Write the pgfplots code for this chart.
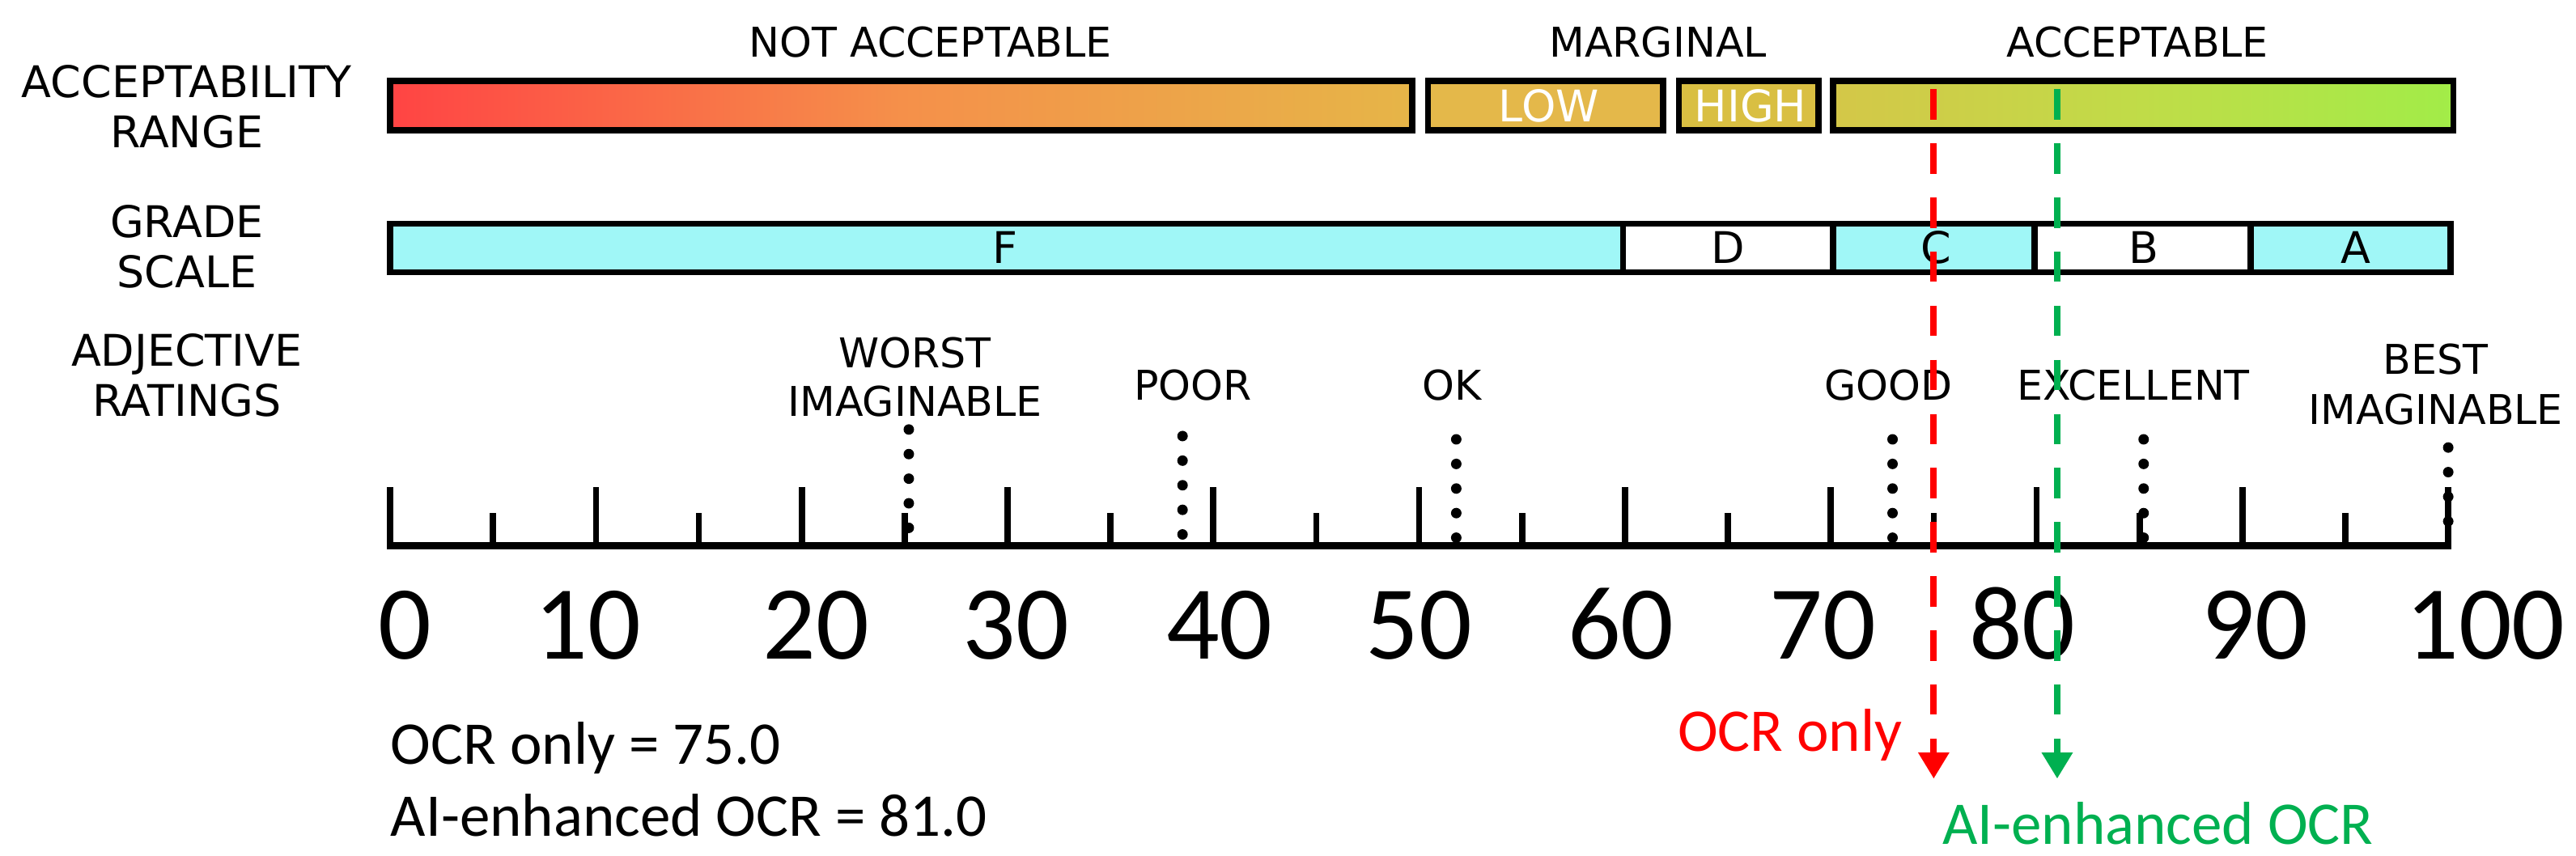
\documentclass[border=0pt]{standalone}
\usepackage{fontspec}
\setmainfont{DejaVu Sans}
\newfontfamily\calfont{Carlito}
\usepackage{pgfplots}
\pgfplotsset{compat=1.18}
\usetikzlibrary{arrows.meta}

\definecolor{ocrred}{HTML}{FF0000}
\definecolor{aigreen}{HTML}{00B050}
\definecolor{gradecyan}{HTML}{A0F7F7}
\definecolor{naleft}{HTML}{FF4444}
\definecolor{namid}{HTML}{F5904A}
\definecolor{naright}{HTML}{E6B548}
\definecolor{lowfill}{HTML}{E4B84A}
\definecolor{highfill}{HTML}{D9BF42}
\definecolor{accleft}{HTML}{D4C748}
\definecolor{accmid}{HTML}{C0DC48}
\definecolor{accright}{HTML}{A2EC48}

\newcommand{\hd}{\fontsize{13.3}{16}\selectfont}
\newcommand{\lb}{\fontsize{12.5}{15}\selectfont}

\begin{document}
\begin{tikzpicture}
\begin{axis}[
  scale only axis,
  width=627.5pt, height=261pt,
  xmin=0, xmax=100, ymin=0, ymax=522,
  axis lines=none,
  clip=false,
]
% page frame
\path (axis cs:-18.96,0) rectangle (axis cs:105.98,522);

% acceptability range
\addplot[draw=black, line width=1.9pt, line join=miter, left color=naleft, right color=naright, middle color=namid]
  coordinates {(-0.01,442.4) (49.65,442.4) (49.65,472.6) (-0.01,472.6)} -- cycle;
\addplot[draw=black, line width=1.9pt, line join=miter, fill=lowfill]
  coordinates {(50.43,442.4) (61.84,442.4) (61.84,472.6) (50.43,472.6)} -- cycle;
\addplot[draw=black, line width=1.9pt, line join=miter, fill=highfill]
  coordinates {(62.62,442.4) (69.41,442.4) (69.41,472.6) (62.62,472.6)} -- cycle;
\addplot[draw=black, line width=1.9pt, line join=miter, left color=accleft, right color=accright, middle color=accmid]
  coordinates {(70.11,442.4) (100.25,442.4) (100.25,472.6) (70.11,472.6)} -- cycle;

% grade scale
\addplot[draw=black, line width=1.9pt, line join=miter, fill=gradecyan]
  coordinates {(-0.01,355.9) (59.9,355.9) (59.9,385.6) (-0.01,385.6)} -- cycle;
\addplot[draw=black, line width=1.9pt, line join=miter, fill=white]
  coordinates {(59.9,355.9) (70.1,355.9) (70.1,385.6) (59.9,385.6)} -- cycle;
\addplot[draw=black, line width=1.9pt, line join=miter, fill=gradecyan]
  coordinates {(70.1,355.9) (79.9,355.9) (79.9,385.6) (70.1,385.6)} -- cycle;
\addplot[draw=black, line width=1.9pt, line join=miter, fill=white]
  coordinates {(79.9,355.9) (90.4,355.9) (90.4,385.6) (79.9,385.6)} -- cycle;
\addplot[draw=black, line width=1.9pt, line join=miter, fill=gradecyan]
  coordinates {(90.4,355.9) (100.1,355.9) (100.1,385.6) (90.4,385.6)} -- cycle;

% scale line and ticks
\pgfplotsinvokeforeach{0,10,...,100}{
  \addplot[black, line width=1.9pt] coordinates {(#1,189) (#1,225)};
}
\pgfplotsinvokeforeach{5,15,...,95}{
  \addplot[black, line width=1.9pt] coordinates {(#1,189) (#1,209)};
}
\addplot[black, line width=2.2pt] coordinates {(-0.15,189) (100.15,189)};

% adjective rating markers
\addplot[black, line width=3.2pt, line cap=round, dash pattern=on 0pt off 7.5pt] coordinates {(25.2,260) (25.2,192)};
\addplot[black, line width=3.2pt, line cap=round, dash pattern=on 0pt off 7.5pt] coordinates {(38.5,256) (38.5,192)};
\addplot[black, line width=3.2pt, line cap=round, dash pattern=on 0pt off 7.5pt] coordinates {(51.8,254) (51.8,192)};
\addplot[black, line width=3.2pt, line cap=round, dash pattern=on 0pt off 7.5pt] coordinates {(73.0,254) (73.0,192)};
\addplot[black, line width=3.2pt, line cap=round, dash pattern=on 0pt off 7.5pt] coordinates {(85.2,254) (85.2,192)};
\addplot[black, line width=3.2pt, line cap=round, dash pattern=on 0pt off 7.5pt] coordinates {(100,249) (100,192)};

% headings
\node[anchor=base, font=\hd] at (axis cs:-9.88,462.3) {ACCEPTABILITY};
\node[anchor=base, font=\hd] at (axis cs:-9.88,431.7) {RANGE};
\node[anchor=base, font=\hd] at (axis cs:-9.88,377.3) {GRADE};
\node[anchor=base, font=\hd] at (axis cs:-9.88,346.3) {SCALE};
\node[anchor=base, font=\hd] at (axis cs:-9.88,298.7) {ADJECTIVE};
\node[anchor=base, font=\hd] at (axis cs:-9.88,268.3) {RATINGS};

% range labels
\node[anchor=base, font=\lb] at (axis cs:26.25,487.4) {NOT ACCEPTABLE};
\node[anchor=base, font=\lb] at (axis cs:61.6,487.4) {MARGINAL};
\node[anchor=base, font=\lb] at (axis cs:84.9,487.4) {ACCEPTABLE};
\node[anchor=base, font=\hd, text=white] at (axis cs:56.3,447.9) {LOW};
\node[anchor=base, font=\hd, text=white] at (axis cs:66.1,447.9) {HIGH};

% grade letters
\node[anchor=base, font=\hd] at (axis cs:29.9,361.5) {F};
\node[anchor=base, font=\hd] at (axis cs:65.0,361.5) {D};
\node[anchor=base, font=\hd] at (axis cs:75.1,361.5) {C};
\node[anchor=base, font=\hd] at (axis cs:85.2,361.5) {B};
\node[anchor=base, font=\hd] at (axis cs:95.5,361.5) {A};

% adjective labels
\node[anchor=base, font=\lb] at (axis cs:25.5,297.9) {WORST};
\node[anchor=base, font=\lb] at (axis cs:25.5,267.9) {IMAGINABLE};
\node[anchor=base, font=\lb] at (axis cs:39.0,277.9) {POOR};
\node[anchor=base, font=\lb] at (axis cs:51.6,277.9) {OK};
\node[anchor=base, font=\lb] at (axis cs:72.8,277.9) {GOOD};
\node[anchor=base, font=\lb] at (axis cs:84.7,277.9) {EXCELLENT};
\node[anchor=base, font=\lb] at (axis cs:99.4,293.9) {BEST};
\node[anchor=base, font=\lb] at (axis cs:99.4,262.9) {IMAGINABLE};

% scale numbers
\node[anchor=base, font=\calfont\fontsize{32}{36}\selectfont] at (axis cs:0.7,120) {0};
\node[anchor=base, font=\calfont\fontsize{32}{36}\selectfont] at (axis cs:9.6,120) {10};
\node[anchor=base, font=\calfont\fontsize{32}{36}\selectfont] at (axis cs:20.7,120) {20};
\node[anchor=base, font=\calfont\fontsize{32}{36}\selectfont] at (axis cs:30.4,120) {30};
\node[anchor=base, font=\calfont\fontsize{32}{36}\selectfont] at (axis cs:40.3,120) {40};
\node[anchor=base, font=\calfont\fontsize{32}{36}\selectfont] at (axis cs:50.0,120) {50};
\node[anchor=base, font=\calfont\fontsize{32}{36}\selectfont] at (axis cs:59.8,120) {60};
\node[anchor=base, font=\calfont\fontsize{32}{36}\selectfont] at (axis cs:69.6,120) {70};
\node[anchor=base, font=\calfont\fontsize{32}{36}\selectfont] at (axis cs:79.3,120) {80};
\node[anchor=base, font=\calfont\fontsize{32}{36}\selectfont] at (axis cs:90.6,120) {90};
\node[anchor=base, font=\calfont\fontsize{32}{36}\selectfont] at (axis cs:101.8,120) {100};

% scores
\addplot[ocrred, line width=2pt, dash pattern=on 9.25pt off 7.25pt, -{Triangle[width=9pt,length=8pt]}]
  coordinates {(75,467.5) (75,47)};
\addplot[aigreen, line width=2pt, dash pattern=on 9.25pt off 7.25pt, -{Triangle[width=9pt,length=8pt]}]
  coordinates {(81,467.5) (81,47)};

\node[anchor=base east, inner sep=0pt, font=\calfont\fontsize{18.5}{22}\selectfont, text=ocrred] at (axis cs:73.5,64) {OCR only};
\node[anchor=base west, inner sep=0pt, font=\calfont\fontsize{18.5}{22}\selectfont, text=aigreen] at (axis cs:75.4,7) {AI-enhanced OCR};

\node[anchor=base west, inner sep=0pt, font=\calfont\fontsize{18.5}{22}\selectfont] at (axis cs:0,56) {OCR only = 75.0};
\node[anchor=base west, inner sep=0pt, font=\calfont\fontsize{18.5}{22}\selectfont] at (axis cs:0,12) {AI-enhanced OCR = 81.0};
\end{axis}
\end{tikzpicture}
\end{document}
